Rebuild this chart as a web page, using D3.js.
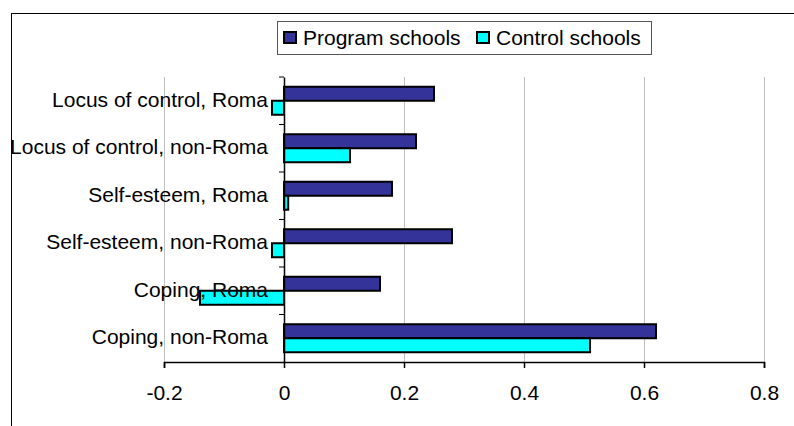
<!DOCTYPE html>
<html><head><meta charset="utf-8">
<script src="https://cdn.jsdelivr.net/npm/d3@7"></script>
<style>body{margin:0;background:#fff}svg{display:block}text{font-family:"Liberation Sans",Arial,sans-serif;fill:#000}</style>
</head><body><svg id="c" width="794" height="426"></svg>
<script>
const categories = ["Locus of control, Roma","Locus of control, non-Roma","Self-esteem, Roma","Self-esteem, non-Roma","Coping, Roma","Coping, non-Roma"];
const seriesNames = ["Program schools","Control schools"];
const programValues = [0.25, 0.22, 0.18, 0.28, 0.16, 0.62];
const controlValues = [-0.02, 0.11, 0.007, -0.02, -0.14, 0.51];
const xTicks = [-0.2, 0, 0.2, 0.4, 0.6, 0.8];
const xTickLabels = ["-0.2", "0", "0.2", "0.4", "0.6", "0.8"];
const colors = ["#333399", "#00FFFF"];

const svg = d3.select("#c");
const fs = 21;
const plot = {left:164, right:764, top:77, bottom:362};

// outer chart border
svg.append("rect").attr("x",11.5).attr("y",13.5).attr("width",800).attr("height",430)
  .attr("fill","none").attr("stroke","#000").attr("stroke-width",1);

const x = d3.scaleLinear().domain([-0.2,0.8]).range([plot.left, plot.right]);
const y = d3.scaleBand().domain(categories).range([plot.top, plot.bottom]).padding(0);
const ys = d3.scaleBand().domain(seriesNames).range([0, y.bandwidth()]).paddingInner(0).paddingOuter(0.696);

// gridlines
svg.append("g").selectAll("line").data(xTicks.filter(t=>t!==0)).join("line")
  .attr("x1",d=>Math.round(x(d))+0.5).attr("x2",d=>Math.round(x(d))+0.5)
  .attr("y1",plot.top).attr("y2",plot.bottom)
  .attr("stroke","#c0c0c0").attr("stroke-width",1);

// bars
const rows = categories.map((c,i)=>({c, vals:[programValues[i], controlValues[i]]}));
const g = svg.append("g");
rows.forEach(r=>{
  r.vals.forEach((v,j)=>{
    g.append("rect")
      .attr("x", x(Math.min(0,v)))
      .attr("y", y(r.c)+ys(seriesNames[j]))
      .attr("width", Math.abs(x(v)-x(0)))
      .attr("height", ys.bandwidth())
      .attr("fill", colors[j]).attr("stroke","#000").attr("stroke-width",2);
  });
});

// x axis
const xAxis = d3.axisBottom(x).tickValues(xTicks).tickSize(6).tickPadding(17)
  .tickFormat((d,i)=>xTickLabels[i]);
const xg = svg.append("g").attr("transform",`translate(0,${plot.bottom})`).call(xAxis);
xg.select(".domain").attr("stroke","#000").attr("stroke-width",1.5);
xg.selectAll(".tick line").attr("stroke","#000").attr("stroke-width",1.5);
xg.selectAll(".tick text").attr("font-size",fs).attr("font-family","Liberation Sans, Arial, sans-serif").attr("fill","#000");

// y axis at 0
const yAxis = d3.axisLeft(y).tickSize(0).tickFormat("");
const yg = svg.append("g").attr("transform",`translate(${x(0)},0)`).call(yAxis);
yg.select(".domain").attr("stroke","#000").attr("stroke-width",1.5);
// category tick marks at band boundaries
svg.append("g").selectAll("line").data(categories).join("line")
  .attr("x1",x(0)-5).attr("x2",x(0))
  .attr("y1",d=>y(d)).attr("y2",d=>y(d))
  .attr("stroke","#000").attr("stroke-width",1);

// category labels
svg.append("g").selectAll("text").data(categories).join("text")
  .attr("x", x(0)-16).attr("y", d=>y(d)+y.bandwidth()/2).attr("dy","0.28em")
  .attr("text-anchor","end").attr("font-size",fs).text(d=>d);

// legend
const lg = svg.append("g");
lg.append("rect").attr("x",277.5).attr("y",21.5).attr("width",374).attr("height",33)
  .attr("fill","#fff").attr("stroke","#555").attr("stroke-width",1);
const legX = [284, 477];
seriesNames.forEach((s,i)=>{
  lg.append("rect").attr("x",legX[i]).attr("y",32).attr("width",12).attr("height",11)
    .attr("fill",colors[i]).attr("stroke","#000").attr("stroke-width",2);
  lg.append("text").attr("x",legX[i]+19).attr("y",45).attr("font-size",fs).text(s);
});
</script></body></html>
